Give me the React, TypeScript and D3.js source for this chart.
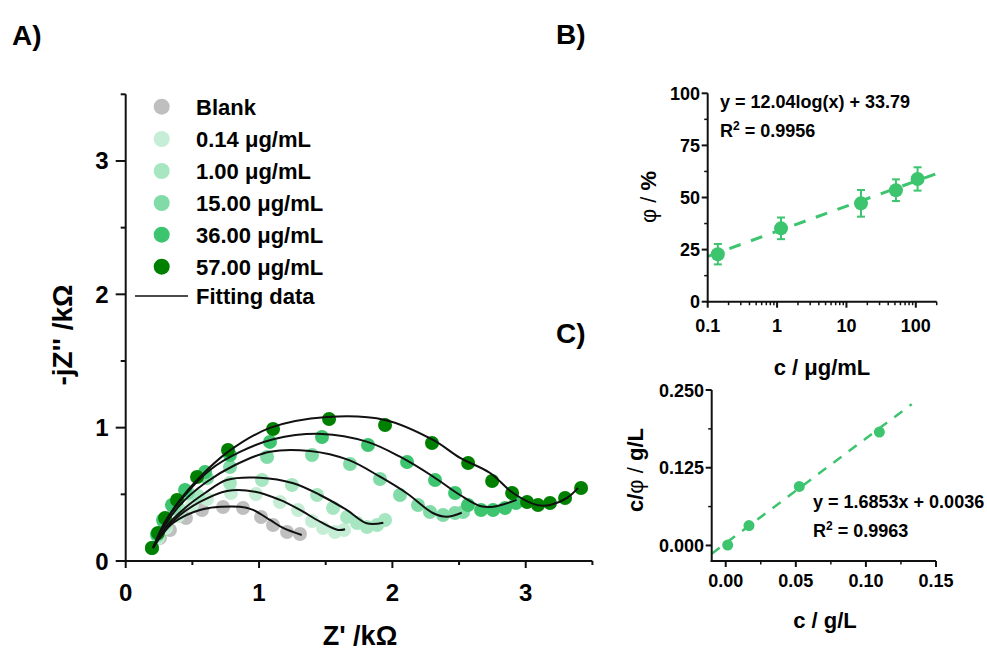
import React from "react";
import * as d3 from "d3";

const FONT = "'Liberation Sans', Arial, Helvetica, sans-serif";

// ---------- Panel A data ----------
const seriesNames = ["Blank", "0.14 μg/mL", "1.00 μg/mL", "15.00 μg/mL", "36.00 μg/mL", "57.00 μg/mL"];
const seriesColors = ["#bfbfbf", "#c6eed6", "#a6e6c0", "#80dba6", "#3cc46e", "#008000"];

const blankPts: [number, number][] = [
  [0.197, 0.098], [0.257, 0.173], [0.332, 0.233], [0.452, 0.323], [0.572, 0.383], [0.73, 0.405],
  [0.88, 0.398], [1.015, 0.33], [1.105, 0.27], [1.21, 0.218], [1.307, 0.203],
];
const c014Pts: [number, number][] = [
  [0.197, 0.098], [0.242, 0.173], [0.302, 0.248], [0.392, 0.338], [0.497, 0.42], [0.61, 0.465],
  [0.79, 0.51], [0.977, 0.503], [1.157, 0.443], [1.292, 0.383], [1.397, 0.3], [1.48, 0.248],
  [1.57, 0.218], [1.637, 0.233],
];
const c100Pts: [number, number][] = [
  [0.197, 0.098], [0.242, 0.188], [0.302, 0.278], [0.407, 0.383], [0.542, 0.488], [0.782, 0.585],
  [1.022, 0.608], [1.247, 0.57], [1.435, 0.495], [1.555, 0.398], [1.66, 0.33], [1.735, 0.285],
  [1.81, 0.255], [1.885, 0.27], [1.945, 0.308],
];
const c15Pts: [number, number][] = [
  [0.197, 0.098], [0.235, 0.195], [0.287, 0.293], [0.362, 0.398], [0.467, 0.51], [0.61, 0.623],
  [0.782, 0.705], [1.06, 0.78], [1.397, 0.795], [1.682, 0.728], [1.907, 0.615], [2.057, 0.495],
  [2.192, 0.42], [2.282, 0.368], [2.38, 0.345], [2.47, 0.36], [2.53, 0.368],
];
const c36Pts: [number, number][] = [
  [0.197, 0.098], [0.235, 0.203], [0.28, 0.308], [0.347, 0.42], [0.445, 0.533], [0.595, 0.668],
  [0.782, 0.795], [1.082, 0.893], [1.472, 0.93], [1.817, 0.87], [2.11, 0.743], [2.32, 0.608],
  [2.47, 0.51], [2.567, 0.42], [2.665, 0.383], [2.755, 0.383], [2.845, 0.398], [2.927, 0.435],
];
const c57Pts: [number, number][] = [
  [0.197, 0.098], [0.242, 0.21], [0.295, 0.323], [0.385, 0.458], [0.535, 0.63], [0.767, 0.833],
  [1.105, 0.99], [1.525, 1.065], [1.945, 1.02], [2.297, 0.885], [2.568, 0.735], [2.748, 0.6],
  [2.898, 0.51], [3.01, 0.443], [3.092, 0.42], [3.182, 0.435], [3.295, 0.473], [3.415, 0.548],
];

const blankFit: [number, number][] = [
  [0.205, 0.098], [0.272, 0.195], [0.355, 0.285], [0.557, 0.383], [0.857, 0.407], [0.955, 0.383],
  [1.082, 0.308], [1.18, 0.248], [1.32, 0.195],
];
const c014Fit: [number, number][] = [
  [0.205, 0.098], [0.295, 0.233], [0.407, 0.345], [0.557, 0.443], [0.76, 0.525], [0.97, 0.52],
  [1.157, 0.458], [1.307, 0.383], [1.457, 0.295], [1.592, 0.233], [1.645, 0.238],
];
const c100Fit: [number, number][] = [
  [0.205, 0.098], [0.295, 0.248], [0.445, 0.398], [0.595, 0.51], [0.757, 0.608], [1.007, 0.625],
  [1.257, 0.583], [1.457, 0.495], [1.657, 0.383], [1.807, 0.283], [1.932, 0.287],
];
const c15Fit: [number, number][] = [
  [0.205, 0.098], [0.28, 0.248], [0.407, 0.42], [0.595, 0.585], [0.82, 0.72], [1.082, 0.82],
  [1.382, 0.825], [1.67, 0.758], [1.907, 0.632], [2.108, 0.508], [2.307, 0.358], [2.408, 0.332],
  [2.52, 0.362],
];
const c36Fit: [number, number][] = [
  [0.205, 0.098], [0.295, 0.293], [0.445, 0.495], [0.632, 0.683], [0.857, 0.818], [1.107, 0.913],
  [1.47, 0.953], [1.807, 0.895], [2.057, 0.782], [2.307, 0.632], [2.507, 0.495], [2.657, 0.413],
  [2.757, 0.407], [2.932, 0.458],
];
const c57Fit: [number, number][] = [
  [0.205, 0.098], [0.295, 0.293], [0.407, 0.458], [0.535, 0.608], [0.767, 0.818], [1.082, 0.998],
  [1.51, 1.08], [1.945, 1.058], [2.305, 0.908], [2.508, 0.773], [2.733, 0.66], [2.905, 0.51],
  [3.085, 0.42], [3.182, 0.42], [3.31, 0.473], [3.393, 0.548],
];

const seriesPts = [blankPts, c014Pts, c100Pts, c15Pts, c36Pts, c57Pts];
const seriesFits = [blankFit, c014Fit, c100Fit, c15Fit, c36Fit, c57Fit];

const aXTicks = [0, 1, 2, 3];
const aYTicks = [0, 1, 2, 3];

// ---------- Panel B data ----------
const bConc = [0.14, 1.14, 16.2, 51.7, 106];
const bPhi = [22.8, 35.2, 47.2, 53.5, 58.9];
const bErr = [4.9, 5.2, 6.4, 5.2, 5.6];
const bYTicks = [0, 25, 50, 75, 100];
const bXTicks = [0.1, 1, 10, 100];
const bXTickLabels = ["0.1", "1", "10", "100"];
const bSlope = 12.04;
const bIntercept = 33.79;

// ---------- Panel C data ----------
const cConc = [0.0014, 0.0166, 0.0525, 0.1096];
const cRatio = [0.0006, 0.032, 0.095, 0.1824];
const cYTicks = [0, 0.125, 0.25];
const cXTicks = [0, 0.05, 0.1, 0.15];
const cSlope = 1.6853;
const cIntercept = 0.0036;

const GREEN = "#3cc46e";

export default function App() {
  // Panel A scales
  const xA = d3.scaleLinear().domain([0, 3.5]).range([125.7, 592.4]);
  const yA = d3.scaleLinear().domain([0, 3.5]).range([561, 94.3]);
  const lineA = d3
    .line<[number, number]>()
    .x((d) => xA(d[0]))
    .y((d) => yA(d[1]))
    .curve(d3.curveCatmullRom.alpha(0.5));

  // Panel B scales
  const xB = d3.scaleLog().domain([0.1, 200]).range([707.7, 936.7]);
  const yB = d3.scaleLinear().domain([0, 100]).range([301.7, 93.3]);
  const bMinor: number[] = [];
  [0.1, 1, 10, 100].forEach((dec) => {
    for (let k = 2; k <= 9; k++) {
      const v = dec * k;
      if (v <= 200) bMinor.push(v);
    }
  });
  const bYMinor = [12.5, 37.5, 62.5, 87.5];

  // Panel C scales
  const xC = d3.scaleLinear().domain([-0.01, 0.15]).range([711.7, 936]);
  const yC = d3.scaleLinear().domain([-0.025, 0.25]).range([561, 390]);
  const cXMinor = [0.025, 0.075, 0.125];
  const cYMinor = [0.0625, 0.1875];

  const aXMinor = [0.5, 1.5, 2.5, 3.5];
  const aYMinor = [0.5, 1.5, 2.5, 3.5];

  const legendY = [106.7, 139, 171, 203, 234.7, 266.7];

  return (
    <svg
      width={987}
      height={653}
      style={{ position: "absolute", left: 0, top: 0, background: "#fff" }}
      fontFamily={FONT}
    >
      <rect x={0} y={0} width={987} height={653} fill="#fff" />

      {/* Panel labels */}
      <text x={12} y={45} fontSize={28} fontWeight="bold">A)</text>
      <text x={556} y={44} fontSize={28} fontWeight="bold">B)</text>
      <text x={556} y={343} fontSize={28} fontWeight="bold">C)</text>

      {/* ===== Panel A ===== */}
      <g>
        {seriesPts.map((pts, i) => (
          <g key={"s" + i}>
            {pts.map((p, j) => (
              <circle key={j} cx={xA(p[0])} cy={yA(p[1])} r={7} fill={seriesColors[i]} />
            ))}
          </g>
        ))}
        {seriesFits.map((f, i) => (
          <path key={"f" + i} d={lineA(f) || ""} fill="none" stroke="#111" strokeWidth={2} />
        ))}
        {/* axes */}
        <line x1={xA(0)} x2={xA(0)} y1={yA(3.5)} y2={yA(0) + 1} stroke="#111" strokeWidth={2} />
        <line x1={xA(0) - 1} x2={xA(3.5)} y1={yA(0)} y2={yA(0)} stroke="#111" strokeWidth={2} />
        {aYTicks.map((t) => (
          <g key={"ay" + t}>
            <line x1={xA(0) - 10} x2={xA(0)} y1={yA(t)} y2={yA(t)} stroke="#111" strokeWidth={2} />
            <text x={xA(0) - 17} y={yA(t) + 8.5} fontSize={24} fontWeight="bold" textAnchor="end">{t}</text>
          </g>
        ))}
        {aYMinor.map((t) => (
          <line key={"aym" + t} x1={xA(0) - 5} x2={xA(0)} y1={yA(t)} y2={yA(t)} stroke="#111" strokeWidth={2} />
        ))}
        {aXTicks.map((t) => (
          <g key={"ax" + t}>
            <line x1={xA(t)} x2={xA(t)} y1={yA(0)} y2={yA(0) + 7} stroke="#111" strokeWidth={2} />
            <text x={xA(t)} y={601} fontSize={24} fontWeight="bold" textAnchor="middle">{t}</text>
          </g>
        ))}
        {aXMinor.map((t) => (
          <line key={"axm" + t} x1={xA(t)} x2={xA(t)} y1={yA(0)} y2={yA(0) + 4} stroke="#111" strokeWidth={2} />
        ))}
        <text
          transform="translate(72,335) rotate(-90)"
          fontSize={28}
          fontWeight="bold"
          textAnchor="middle"
        >
          -jZ'' /kΩ
        </text>
        <text x={360} y={645} fontSize={27} fontWeight="bold" textAnchor="middle">Z' /kΩ</text>

        {/* legend */}
        {seriesNames.map((n, i) => (
          <g key={"lg" + i}>
            <circle cx={161.7} cy={legendY[i]} r={8} fill={seriesColors[i]} />
            <text x={196} y={legendY[i] + 8} fontSize={22} fontWeight="bold">{n}</text>
          </g>
        ))}
        <line x1={135} x2={188} y1={296} y2={296} stroke="#111" strokeWidth={1.5} />
        <text x={196} y={304} fontSize={22} fontWeight="bold">Fitting data</text>
      </g>

      {/* ===== Panel B ===== */}
      <g>
        <line
          x1={xB(0.1)}
          x2={xB(200)}
          y1={yB(bSlope * Math.log10(0.1) + bIntercept)}
          y2={yB(bSlope * Math.log10(200) + bIntercept)}
          stroke={GREEN}
          strokeWidth={3}
          strokeDasharray="12,11"
        />
        {bConc.map((c, i) => (
          <g key={"b" + i}>
            <line x1={xB(c)} x2={xB(c)} y1={yB(bPhi[i] - bErr[i])} y2={yB(bPhi[i] + bErr[i])} stroke={GREEN} strokeWidth={2} />
            <line x1={xB(c) - 4} x2={xB(c) + 4} y1={yB(bPhi[i] - bErr[i])} y2={yB(bPhi[i] - bErr[i])} stroke={GREEN} strokeWidth={2} />
            <line x1={xB(c) - 4} x2={xB(c) + 4} y1={yB(bPhi[i] + bErr[i])} y2={yB(bPhi[i] + bErr[i])} stroke={GREEN} strokeWidth={2} />
            <circle cx={xB(c)} cy={yB(bPhi[i])} r={7} fill={GREEN} />
          </g>
        ))}
        <line x1={xB(0.1)} x2={xB(0.1)} y1={yB(100)} y2={yB(0) + 1} stroke="#111" strokeWidth={2} />
        <line x1={xB(0.1) - 1} x2={xB(200)} y1={yB(0)} y2={yB(0)} stroke="#111" strokeWidth={2} />
        {bYTicks.map((t) => (
          <g key={"by" + t}>
            <line x1={xB(0.1) - 6} x2={xB(0.1)} y1={yB(t)} y2={yB(t)} stroke="#111" strokeWidth={2} />
            <text x={700} y={yB(t) + 6.5} fontSize={18} fontWeight="bold" textAnchor="end">{t}</text>
          </g>
        ))}
        {bYMinor.map((t) => (
          <line key={"bym" + t} x1={xB(0.1) - 3.5} x2={xB(0.1)} y1={yB(t)} y2={yB(t)} stroke="#111" strokeWidth={1.5} />
        ))}
        {bXTicks.map((t, i) => (
          <g key={"bx" + t}>
            <line x1={xB(t)} x2={xB(t)} y1={yB(0)} y2={yB(0) + 6} stroke="#111" strokeWidth={2} />
            <text x={xB(t)} y={332} fontSize={18} fontWeight="bold" textAnchor="middle">{bXTickLabels[i]}</text>
          </g>
        ))}
        {bMinor.map((t) => (
          <line key={"bxm" + t} x1={xB(t)} x2={xB(t)} y1={yB(0)} y2={yB(0) + 3.5} stroke="#111" strokeWidth={1.5} />
        ))}
        <text transform="translate(656,197) rotate(-90)" fontSize={22} textAnchor="middle">
          <tspan>φ / </tspan>
          <tspan fontWeight="bold">%</tspan>
        </text>
        <text x={822} y={375} fontSize={22} fontWeight="bold" textAnchor="middle">c / μg/mL</text>
        <text x={720} y={108} fontSize={18} fontWeight="bold">y = 12.04log(x) + 33.79</text>
        <text x={720} y={137} fontSize={18} fontWeight="bold">
          R<tspan dy={-7} fontSize={12}>2</tspan>
          <tspan dy={7}> = 0.9956</tspan>
        </text>
      </g>

      {/* ===== Panel C ===== */}
      <g>
        <line
          x1={xC(-0.01)}
          x2={xC(0.1327)}
          y1={yC(cSlope * -0.01 + cIntercept)}
          y2={yC(cSlope * 0.1327 + cIntercept)}
          stroke={GREEN}
          strokeWidth={2.5}
          strokeDasharray="10,9"
        />
        {cConc.map((c, i) => (
          <circle key={"c" + i} cx={xC(c)} cy={yC(cRatio[i])} r={5.5} fill={GREEN} />
        ))}
        <line x1={xC(-0.01)} x2={xC(-0.01)} y1={yC(0.25)} y2={yC(-0.025) + 1} stroke="#111" strokeWidth={2} />
        <line x1={xC(-0.01) - 1} x2={xC(0.15)} y1={yC(-0.025)} y2={yC(-0.025)} stroke="#111" strokeWidth={2} />
        {cYTicks.map((t) => (
          <g key={"cy" + t}>
            <line x1={xC(-0.01) - 6} x2={xC(-0.01)} y1={yC(t)} y2={yC(t)} stroke="#111" strokeWidth={2} />
            <text x={704} y={yC(t) + 6.5} fontSize={18} fontWeight="bold" textAnchor="end">{d3.format(".3f")(t)}</text>
          </g>
        ))}
        {cYMinor.map((t) => (
          <line key={"cym" + t} x1={xC(-0.01) - 3.5} x2={xC(-0.01)} y1={yC(t)} y2={yC(t)} stroke="#111" strokeWidth={1.5} />
        ))}
        {cXTicks.map((t) => (
          <g key={"cx" + t}>
            <line x1={xC(t)} x2={xC(t)} y1={yC(-0.025)} y2={yC(-0.025) + 6} stroke="#111" strokeWidth={2} />
            <text x={xC(t)} y={587} fontSize={18} fontWeight="bold" textAnchor="middle">{d3.format(".2f")(t)}</text>
          </g>
        ))}
        {cXMinor.map((t) => (
          <line key={"cxm" + t} x1={xC(t)} x2={xC(t)} y1={yC(-0.025)} y2={yC(-0.025) + 3.5} stroke="#111" strokeWidth={1.5} />
        ))}
        <text transform="translate(643,470) rotate(-90)" fontSize={22} fontWeight="bold" textAnchor="middle">
          <tspan>c/</tspan>
          <tspan fontWeight="normal">φ / </tspan>
          <tspan>g/L</tspan>
        </text>
        <text x={825} y={628} fontSize={22} fontWeight="bold" textAnchor="middle">c / g/L</text>
        <text x={813} y={508} fontSize={18} fontWeight="bold">y = 1.6853x + 0.0036</text>
        <text x={813} y={537} fontSize={18} fontWeight="bold">
          R<tspan dy={-7} fontSize={12}>2</tspan>
          <tspan dy={7}> = 0.9963</tspan>
        </text>
      </g>
    </svg>
  );
}
